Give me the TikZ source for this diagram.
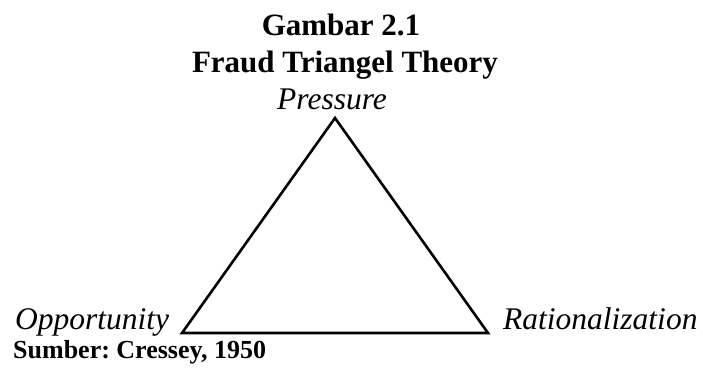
\documentclass[tikz,border=0pt]{standalone}
\usepackage{fontspec}
\setmainfont{Liberation Serif}
\frenchspacing
\begin{document}
\begin{tikzpicture}[x=1pt,y=-1pt,
  lbl/.style={inner sep=0pt,font=\fontsize{31.5}{37}\selectfont\itshape},
  ttl/.style={inner sep=0pt,font=\fontsize{31}{37}\selectfont\bfseries},
  src/.style={inner sep=0pt,font=\fontsize{26}{31}\selectfont\bfseries},
  tri/.style={line width=2.6pt,line join=miter}]
\useasboundingbox (0,0) rectangle (703,367);
\node[ttl,anchor=base] (t1) at (341,35) {Gambar 2.1};
\node[ttl,anchor=base] (t2) at (345,72.7) {Fraud Triangel Theory};
\coordinate (A) at (335,118);
\coordinate (B) at (182,333);
\coordinate (C) at (488,333);
\draw[tri] (A) -- (B) -- (C) -- cycle;
\node[lbl,anchor=base] (p) at (332,109) {Pressure};
\node[lbl,anchor=base west] (o) at (15,329) {Opportunity};
\node[lbl,anchor=base west] (r) at (503,329) {Rationalization};
\node[src,anchor=base west] (s) at (13,358) {Sumber: Cressey, 1950};
\end{tikzpicture}
\end{document}
